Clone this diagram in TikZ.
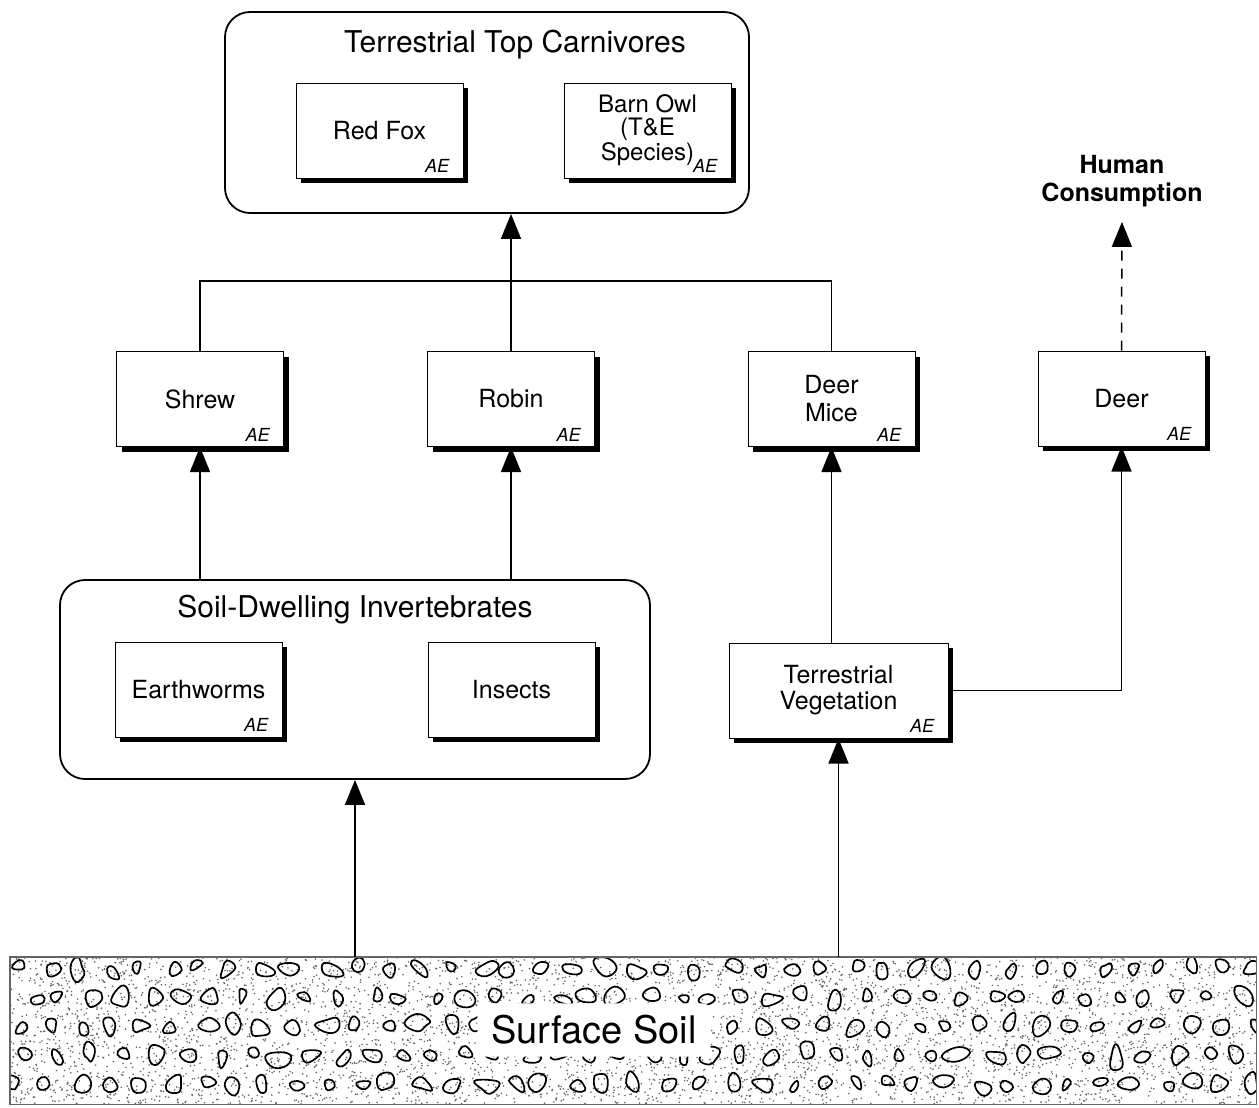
\documentclass[tikz,border=0pt]{standalone}
\usepackage{fontspec}
\setmainfont{TeX Gyre Heros}
\usetikzlibrary{arrows.meta,shadows}

\tikzset{
	flow/.style={line width=0.75pt, -{Triangle[width=10pt,length=12.5pt]}},
	link/.style={line width=0.75pt},
	group/.style={draw, line width=0.9pt, rounded corners=12.5pt},
	grouptitle/.style={font=\fontsize{15}{15}\selectfont},
	species/.style={draw, line width=0.5pt, fill=white, minimum width=83.5pt, minimum height=47.5pt,
		align=center, font=\fontsize{12.5}{13.5}\selectfont,
		drop shadow={shadow xshift=2.5pt, shadow yshift=-2.5pt, opacity=1, fill=black}},
	ae/.style={font=\fontsize{9}{9}\selectfont\itshape, inner sep=0pt, anchor=base east},
	pebble/.style={line width=0.85pt, black},
	grain/.style={fill=black!60},
}
\def\aemark(#1){\node[ae] at ([shift={(-7pt,3pt)}]#1.south east) {AE};}

\begin{document}
\begin{tikzpicture}[x=0.5pt, y=-0.5pt]
		%%%%% START %%%%%
		\useasboundingbox (0,0) rectangle (1259,1108);
		
		% top carnivores
		\node[group, minimum width=262pt, minimum height=100.5pt] (carniv) at (487,112.5) {};
		\node[grouptitle] (carnivtitle) at (515,45) {Terrestrial Top Carnivores};
		\node[species] (fox) at (379.5,130.5) {Red Fox};
		\node[species, font=\fontsize{12}{11.5}\selectfont] (owl) at (647.5,130.5) {Barn Owl\\(T\&E\\Species)};
		\aemark(fox)
		\aemark(owl)
		
		% middle row
		\node[species] (shrew) at (200,399) {Shrew};
		\node[species] (robin) at (511,399) {Robin};
		\node[species, font=\fontsize{12.5}{14}\selectfont] (mice) at (831.5,399) {Deer\\Mice};
		\node[species] (deer) at (1121.5,398.5) {Deer};
		\aemark(shrew)
		\aemark(robin)
		\aemark(mice)
		\aemark(deer)
		
		\node[font=\fontsize{12.5}{14}\selectfont\bfseries, align=center] (human) at (1122,181) {Human\\Consumption};
		
		% soil invertebrates
		\node[group, minimum width=295pt, minimum height=99.5pt] (invert) at (355,679.5) {};
		\node[grouptitle] (inverttitle) at (355,610) {Soil-Dwelling Invertebrates};
		\node[species] (worms) at (198.5,689.5) {Earthworms};
		\node[species] (insects) at (511.5,689.5) {Insects};
		\aemark(worms)
		
		\node[species, minimum width=109.5pt, font=\fontsize{12.5}{13}\selectfont] (veg) at (838.5,690.5) {Terrestrial\\Vegetation};
		\aemark(veg)
		
		% surface soil
		\node[minimum width=623pt, minimum height=73.5pt, inner sep=0pt] (soil) at (633,1030.5) {};
		\begin{scope}
			\clip (soil.north west) rectangle (soil.south east);
			\pgfmathsetseed{31}
			\foreach \i in {1,...,5200}
				\fill[grain] ({10+rnd*1246},{957+rnd*147}) circle (0.45pt);
			\foreach \c in {0,...,40}{
				\foreach \r in {0,...,4}{
					\pgfmathsetmacro\cx{16+\c*31+mod(\r,2)*15+(rnd-0.5)*12}
					\pgfmathsetmacro\cy{968+\r*29+(rnd-0.5)*6}
					\pgfmathsetmacro\rr{6.5+rnd*5.5}
					\pgfmathsetmacro\rot{rnd*360}
					\draw[pebble, rotate around={\rot:(\cx,\cy)}] plot[smooth cycle, tension=0.75, domain=0:288, samples=5, variable=\t]
						({\cx+1.2*\rr*(0.4+0.7*rnd)*cos(\t)}, {\cy+0.85*\rr*(0.4+0.7*rnd)*sin(\t)});
				}
			}
		\end{scope}
		\draw[line width=0.9pt, black!60] (soil.north west) rectangle (soil.south east);
		\node[fill=white, rounded corners=4pt, inner xsep=7pt, inner ysep=6pt,
			font=\fontsize{19}{19}\selectfont] (soillabel) at (594,1030) {Surface Soil};
		
		% connectors
		\coordinate (junction) at (511,281);
		\draw[link] (shrew.north) |- (junction) -| (mice.north);
		\draw[flow] (robin.north) -- (robin.north |- carniv.south);
		\draw[flow] (invert.north -| shrew) -- (shrew.south);
		\draw[flow] (invert.north -| robin) -- (robin.south);
		\draw[flow] (veg.north -| mice) -- (mice.south);
		\draw[flow] (veg.east) -| (deer.south);
		\draw[flow, dashed, dash pattern=on 5pt off 4pt, shorten >=4pt] (deer.north) -- (human.south);
		\draw[flow] (soil.north -| invert) -- (invert.south);
		\draw[flow] (soil.north -| veg) -- (veg.south);
		
		%%%%% END %%%%%
	\end{tikzpicture}
\end{document}
